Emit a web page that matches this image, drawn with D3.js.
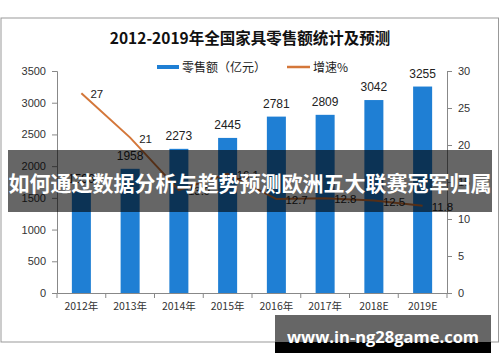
<!DOCTYPE html>
<html><head><meta charset="utf-8">
<script src="https://cdn.jsdelivr.net/npm/d3@7"></script>
<style>body{margin:0;background:#fff}svg{display:block}</style>
</head><body>
<svg id="c" width="500" height="362"></svg>
<script>
const years = ["2012年","2013年","2014年","2015年","2016年","2017年","2018E","2019E"];
const sales = [1596,1958,2273,2445,2781,2809,3042,3255];
const growth = [27,21,13.9,16.1,12.7,12.8,12.5,11.8];
const leftTicks = [0,500,1000,1500,2000,2500,3000,3500];
const rightTicks = [0,5,10,15,20,25,30];
const title = "2012-2019年全国家具零售额统计及预测";
const legendLabels = ["零售额（亿元）","增速%"];
const bannerText = "如何通过数据分析与趋势预测欧洲五大联赛冠军归属";
const footerText = "www.in-ng28game.com";

const svg = d3.select("#c");
const numFont = "'Liberation Sans', Arial, sans-serif";
const cjkFont = "'Noto Sans CJK SC', 'Liberation Sans', sans-serif";
const blue = "#1f7fd4", orange = "#d4773a", axisC = "#888";

const L = 57, R = 447, T = 71, B = 293;
const x = d3.scaleBand().domain(years).range([L, R]).paddingInner(0.61).paddingOuter(0.305);
const y = d3.scaleLinear().domain([0, 3500]).range([B, T]);
const y2 = d3.scaleLinear().domain([0, 30]).range([B, T]);

// frame
svg.append("rect").attr("x",1).attr("y",18).attr("width",497.5).attr("height",324)
  .attr("fill","#fff").attr("stroke","#999").attr("stroke-width",1);

// title
svg.append("text").attr("x",250).attr("y",44).attr("text-anchor","middle")
  .attr("font-family",cjkFont).attr("font-weight","bold").attr("font-size",15.5)
  .attr("fill","#111").text(title);

// legend
svg.append("rect").attr("x",157).attr("y",65).attr("width",22).attr("height",4).attr("fill",blue);
svg.append("text").attr("x",182).attr("y",71.5).attr("font-family",cjkFont).attr("font-size",12)
  .attr("fill","#222").text(legendLabels[0]);
svg.append("line").attr("x1",287).attr("x2",310).attr("y1",67).attr("y2",67)
  .attr("stroke",orange).attr("stroke-width",2.5);
svg.append("text").attr("x",313).attr("y",71.5).attr("font-family",cjkFont).attr("font-size",12)
  .attr("fill","#222").text(legendLabels[1]);

// axes
const gl = svg.append("g").attr("transform",`translate(${L},0)`)
  .call(d3.axisLeft(y).tickValues(leftTicks).tickFormat(d3.format("d")).tickSize(5).tickPadding(6));
const gr = svg.append("g").attr("transform",`translate(${R},0)`)
  .call(d3.axisRight(y2).tickValues(rightTicks).tickFormat(d3.format("d")).tickSize(5).tickPadding(6));
const gb = svg.append("g").attr("transform",`translate(0,${B})`)
  .call(d3.axisBottom(x).tickSize(0).tickPadding(10));
[gl,gr,gb].forEach(g=>{
  g.selectAll("path").attr("stroke",axisC);
  g.selectAll("line").attr("stroke",axisC);
  g.selectAll("text").attr("font-family",numFont).attr("font-size",11).attr("fill","#333");
});
gb.selectAll("text").attr("font-family",cjkFont).attr("font-size",10.5);
// category boundary ticks on x axis
const step = x.step();
gb.selectAll(".bt").data(d3.range(years.length+1)).enter().append("line")
  .attr("x1",i=>L+i*step).attr("x2",i=>L+i*step).attr("y1",0).attr("y2",5).attr("stroke",axisC);

// bars
svg.append("g").selectAll("rect").data(years).enter().append("rect")
  .attr("x",d=>x(d)).attr("width",x.bandwidth())
  .attr("y",(d,i)=>y(sales[i])).attr("height",(d,i)=>B-y(sales[i])).attr("fill",blue);
svg.append("g").selectAll("text").data(years).enter().append("text")
  .attr("x",d=>x(d)+x.bandwidth()/2).attr("y",(d,i)=>y(sales[i])-9)
  .attr("text-anchor","middle").attr("font-family",numFont).attr("font-size",12).attr("fill","#222")
  .text((d,i)=>sales[i]);

// line
const cx = d=>x(d)+x.bandwidth()/2;
svg.append("path").datum(years)
  .attr("d",d3.line().x(cx).y((d,i)=>y2(growth[i])))
  .attr("fill","none").attr("stroke",orange).attr("stroke-width",2);
svg.append("g").selectAll("text").data(years).enter().append("text")
  .attr("x",d=>cx(d)+9).attr("y",(d,i)=>y2(growth[i])+5)
  .attr("font-family",numFont).attr("font-size",11.5).attr("fill","#222")
  .text((d,i)=>growth[i]);

// banner overlay
svg.append("rect").attr("x",8).attr("y",150).attr("width",484).attr("height",62)
  .attr("fill","rgba(0,0,0,0.6)");
svg.append("text").attr("x",250).attr("y",191).attr("text-anchor","middle")
  .attr("font-family",cjkFont).attr("font-weight","bold").attr("font-size",21)
  .attr("fill","#fff").text(bannerText);

// footer watermark box
svg.append("rect").attr("x",275).attr("y",315).attr("width",216).attr("height",27).attr("fill","#666");
svg.append("rect").attr("x",275).attr("y",342).attr("width",216).attr("height",11).attr("fill","#000");
svg.append("text").attr("x",383).attr("y",343).attr("text-anchor","middle")
  .attr("font-family","'Open Sans', 'DejaVu Sans', sans-serif").attr("font-weight","bold").attr("font-size",16.5)
  .attr("fill","#fff").text(footerText);
</script>
</body></html>
